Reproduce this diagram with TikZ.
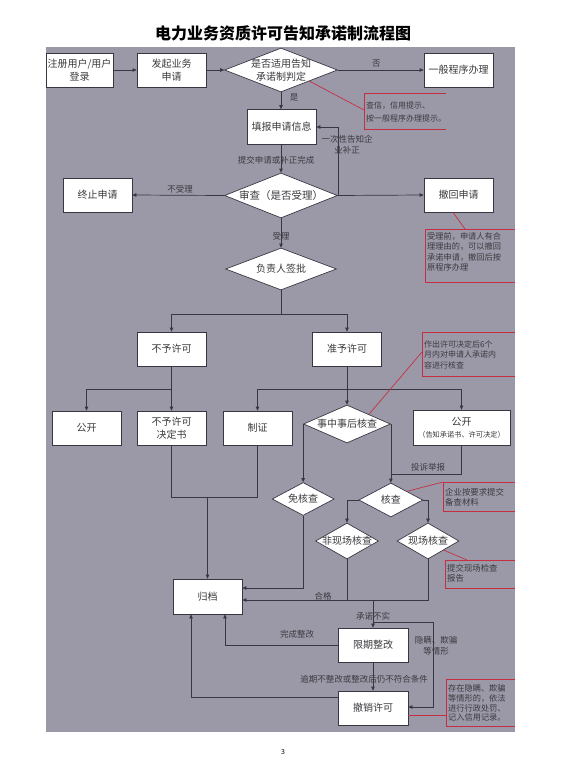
\documentclass[tikz,border=0pt]{standalone}
\usepackage{fontspec}
\setmainfont{Noto Sans CJK SC}
\usetikzlibrary{arrows.meta,shapes.geometric}
\definecolor{bg}{RGB}{155,153,168}
\definecolor{linec}{RGB}{55,55,66}
\definecolor{txt}{RGB}{58,58,62}
\definecolor{red2}{RGB}{196,48,66}
\begin{document}
\begin{tikzpicture}[x=1pt,y=-1pt,
 box/.style={draw=linec, fill=white, line width=0.7pt, minimum width=69pt, minimum height=34pt, inner sep=1pt, align=center, font=\fontsize{10}{12.5}\selectfont, text=txt},
 dia/.style={draw=linec, fill=white, line width=0.7pt, shape=diamond, inner sep=0pt},
 dtxt/.style={align=center, font=\fontsize{10}{12.5}\selectfont, text=txt, inner sep=0pt},
 arr/.style={draw=linec, line width=0.7pt, -{Triangle[length=4pt,width=3.5pt]}},
 ln/.style={draw=linec, line width=0.7pt},
 lab/.style={font=\fontsize{8.5}{10.5}\selectfont, text=txt, inner sep=1pt, align=center},
 note/.style={font=\fontsize{8}{10}\selectfont, text=txt, inner sep=0pt, align=left, anchor=west},
 rl/.style={draw=red2, line width=0.7pt},
]
\useasboundingbox (0,0) rectangle (566,765);
\fill[white] (0,0) rectangle (566,765);
\fill[bg] (46,47) rectangle (515,732);

\node[font=\fontsize{16}{18}\selectfont\bfseries, text=black] (title) at (283,33) {电力业务资质许可告知承诺制流程图};
\node[font=\fontsize{7}{8}\selectfont, text=black] (pg) at (283,752) {3};

% nodes
\node[box, minimum width=67pt] (n1) at (79.5,70) {注册用户/用户\\登录};
\node[box] (n2) at (171.5,70) {发起业务\\申请};
\node[dia, minimum width=113pt, minimum height=44pt] (d1) at (281,70) {};
\node[dtxt] (d1t) at (d1.center) {是否适用告知\\承诺制判定};
\node[box] (n3) at (458.5,70) {一般程序办理};
\node[box, minimum height=35pt] (n4) at (281.5,127) {填报申请信息};
\node[dia, minimum width=113pt, minimum height=45pt] (d2) at (281,195.5) {};
\node[dtxt, font=\fontsize{10.5}{12.5}\selectfont] (d2t) at (d2.center) {审查（是否受理）};
\node[box] (n5) at (97.5,195) {终止申请};
\node[box] (n6) at (458.5,195) {撤回申请};
\node[dia, minimum width=111pt, minimum height=42pt] (d3) at (281,269) {};
\node[dtxt] (d3t) at (d3.center) {负责人签批};
\node[box] (n7) at (171.5,349) {不予许可};
\node[box] (n8) at (347,349) {准予许可};
\node[box] (n9) at (86.5,428) {公开};
\node[box] (n10) at (171.5,428) {不予许可\\决定书};
\node[box] (n11) at (257.5,428) {制证};
\node[dia, minimum width=87pt, minimum height=38pt] (d4) at (347,424) {};
\node[dtxt] (d4t) at (d4.center) {事中事后核查};
\node[box, minimum width=97pt, minimum height=35pt] (n12) at (461.5,427.5) {公开\\[-1pt]{\fontsize{7.2}{9}\selectfont （告知承诺书、许可决定）}};
\node[dia, minimum width=62pt, minimum height=33pt] (d5) at (d4.west |- 0,499) {};
\node[dtxt] (d5t) at (d5.center) {免核查};
\node[dia, minimum width=64pt, minimum height=34pt] (d6) at (d4.east |- 0,500) {};
\node[dtxt] (d6t) at (d6.center) {核查};
\node[dia, minimum width=63pt, minimum height=36pt] (d7) at (347,541) {};
\node[dtxt] (d7t) at (d7.center) {非现场核查};
\node[dia, minimum width=62pt, minimum height=36pt] (d8) at (428,541) {};
\node[dtxt] (d8t) at (d8.center) {现场核查};
\node[box, minimum height=35pt] (n13) at (207.5,596.5) {归档};
\node[box, minimum width=70pt] (n14) at (373,645) {限期整改};
\node[box, minimum width=70pt] (n15) at (373,708) {撤销许可};

% connectors
\draw[arr] (n1) -- (n2);
\draw[arr] (n2) -- (d1.west);
\draw[arr] (d1.east) -- (n3.west) node[lab, pos=0.45, above=1pt] {否};
\draw[arr] (d1.south) -- (n4.north -| d1.south);
\node[lab] (l1) at (294,97.5) {是};
\draw[arr] (n4.south -| d2.north) -- (d2.north);
\node[lab] (l2) at (276,160) {提交申请或补正完成};
\draw[arr] (d2.west) -- (n5.east);
\node[lab] (l3) at (180,189) {不受理};
\draw[arr] (d2.east) -- (n6.west);
\draw[arr] (d2.east) -- (d2.east |- n4.east) -- (n4.east);
\node[lab] (l4) at (347,144.5) {一次性告知企\\业补正};
\draw[arr] (d2.south) -- (d3.north);
\node[lab] (l5) at (281,236) {受理};
\coordinate (s1) at (d3.south |- 0,314);
\draw[ln] (d3.south) -- (s1);
\draw[arr] (s1) -| (n7.north);
\draw[arr] (s1) -| (n8.north);
\coordinate (s2) at (n7.south |- 0,389);
\draw[ln] (n7.south) -- (s2);
\draw[arr] (s2) -| (n9.north);
\draw[arr] (s2) -- (n10.north);
\draw[arr] (n8.south) -- (d4.north);
\coordinate (s3) at (n8.south |- 0,389);
\draw[arr] (s3) -| (n11.north);
\draw[arr] (s3) -| (n12.north);
\draw[arr] (d4.west) -- (d5.north);
\draw[arr] (d4.east) -- (d6.north);
\draw[ln] (n12.south) |- (d6.north |- 0,474);
\node[lab] (l6) at (428,467) {投诉举报};
\draw[arr] (d6.west) -| (d7.north);
\draw[arr] (d6.east) -| (d8.north);
% to archive
\coordinate (s4) at (n13.north |- 0,497);
\draw[ln] (n10.south) |- (s4);
\draw[ln] (n11.south) |- (s4);
\draw[arr] (s4) -- (n13.north);
\draw[arr] (d5.south) |- (n13.east |- 0,588);
\draw[arr] (d8.south) |- (n13.east |- 0,600);
\draw[ln] (d7.south) -- (d7.south |- 0,600);
\node[lab] (l7) at (323,596) {合格};
\coordinate (c1) at (n14.north |- 0,600);
\coordinate (c2) at (n14.north |- 0,622);
\draw[arr] (c1) -- (n14.north);
\node[lab] (l8) at (373,616) {承诺不实};
\draw[arr] (c2) -- (433,622) -- (433,707) -- ([yshift=1pt]n15.east);
\node[lab] (l9) at (436,646) {隐瞒、欺骗\\等情形};
\draw[arr] (n14.west) -| ([xshift=17.5pt]n13.south);
\node[lab] (l10) at (297,634) {完成整改};
\draw[arr] (n14.south) -- (n15.north);
\node[lab] (l11) at (364,679) {逾期不整改或整改后仍不符合条件};
\draw[arr] ([yshift=11pt]n15.west) -| ([xshift=-16.5pt]n13.south);

% red annotations
\draw[rl] (d1.south east) -- (364,110);
\draw[rl] (446,93) -- (364,93) -- (364,129) -- (446,129);
\node[note, font=\fontsize{8}{13}\selectfont] (a1) at (366,111.5) {查信，信用提示、\\按一般程序办理提示。};

\draw[rl] ([xshift=-5.5pt]n6.south) -- (465,229);
\draw[rl] (515,229) -- (425,229) -- (425,282) -- (515,282);
\node[note, font=\fontsize{8.2}{10.3}\selectfont] (a2) at (427,252) {受理前，申请人有合\\理理由的，可以撤回\\承诺申请，撤回后按\\原程序办理};

\draw[rl] (d4.north east) -- (422,352);
\draw[rl] (515,332) -- (422,332) -- (422,376) -- (515,376);
\node[note, font=\fontsize{8}{10.5}\selectfont] (a3) at (424,354.5) {作出许可决定后6个\\月内对申请人承诺内\\容进行核查};

\draw[rl] (d6.north east) -- (443,482);
\draw[rl] (515,482) -- (443,482) -- (443,511) -- (515,511);
\node[note, font=\fontsize{8.4}{10}\selectfont] (a4) at (445,497) {企业按要求提交\\备查材料};

\draw[rl] (d8.south east) -- (467,560);
\draw[rl] (515,560) -- (445,560) -- (445,588) -- (515,588);
\node[note, font=\fontsize{8.4}{10}\selectfont] (a5) at (447,573) {提交现场检查\\报告};

\draw[rl] ([yshift=-7pt]n15.east) -- (446,715);
\draw[rl] (515,679) -- (446,679) -- (446,726) -- (515,726);
\node[note, font=\fontsize{8.2}{9.8}\selectfont] (a6) at (448,703) {存在隐瞒、欺骗\\等情形的，依法\\进行行政处罚、\\记入信用记录。};
\end{tikzpicture}
\end{document}
